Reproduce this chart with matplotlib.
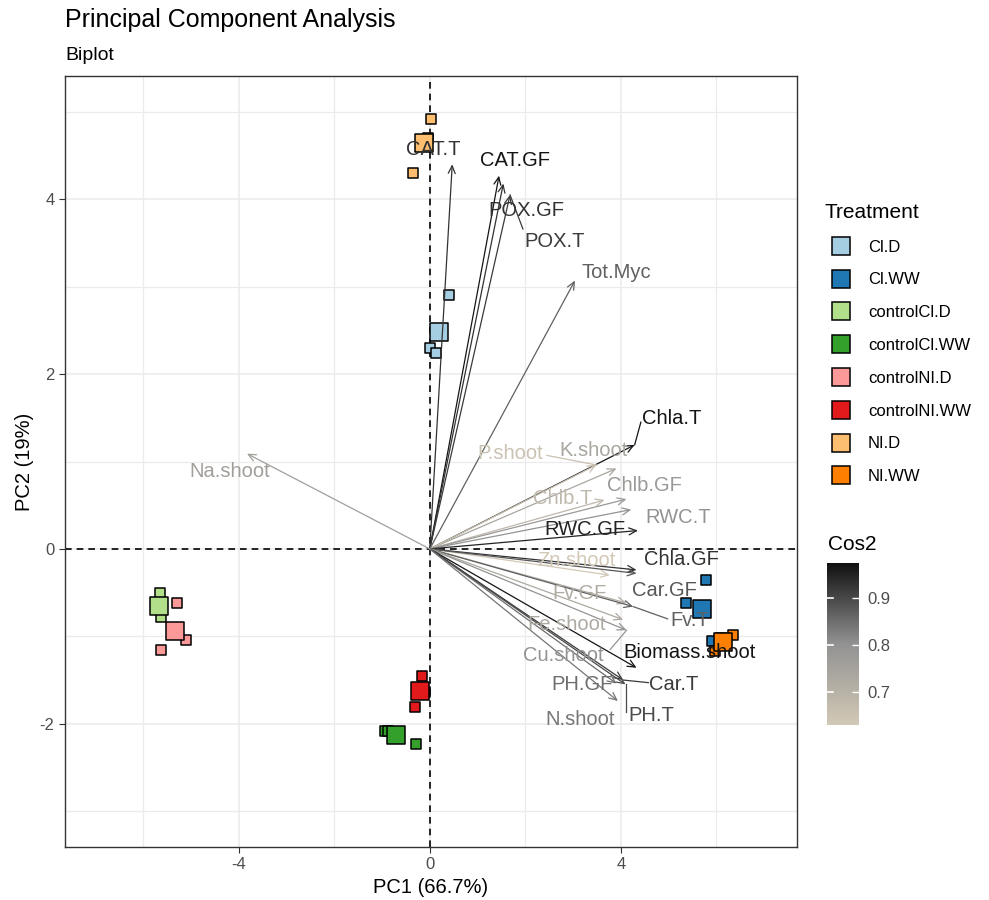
import numpy as np
import matplotlib
matplotlib.use("Agg")
import matplotlib.pyplot as plt
from matplotlib.colors import LinearSegmentedColormap, Normalize
from matplotlib.lines import Line2D

plt.rcParams["font.family"] = ["Liberation Sans", "DejaVu Sans"]
plt.rcParams["axes.unicode_minus"] = False

# Individuals (PC1, PC2) per treatment group
groups = ["Cl.D", "Cl.WW", "controlCl.D", "controlCl.WW",
          "controlNI.D", "controlNI.WW", "NI.D", "NI.WW"]
group_colors = ["#A6CEE3", "#1F78B4", "#B2DF8A", "#33A02C",
                "#FB9A99", "#E31A1C", "#FDBF6F", "#FF7F00"]
ind_x = [[0.40, 0.00, 0.14], [5.79, 5.36, 5.90], [-5.66, -5.72, -5.62],
         [-0.94, -0.87, -0.29], [-5.30, -5.10, -5.62], [-0.16, -0.32, -0.10],
         [0.035, -0.04, -0.36], [6.34, 6.10, 5.98]]
ind_y = [[2.91, 2.30, 2.24], [-0.36, -0.62, -1.05], [-0.51, -0.66, -0.78],
         [-2.08, -2.08, -2.23], [-0.62, -1.04, -1.16], [-1.455, -1.81, -1.64],
         [4.92, 4.70, 4.30], [-0.99, -1.02, -1.17]]
mean_x = [0.19, 5.69, -5.67, -0.70, -5.33, -0.195, -0.12, 6.14]
mean_y = [2.48, -0.69, -0.65, -2.13, -0.94, -1.63, 4.64, -1.06]

# Variables (loadings, scaled) and their cos2
var_names = ["CAT.T", "CAT.GF", "POX.GF", "POX.T", "Tot.Myc", "Chla.T",
             "K.shoot", "P.shoot", "Chlb.T", "Chlb.GF", "RWC.T", "RWC.GF",
             "Zn.shoot", "Chla.GF", "Car.GF", "Fv.GF", "Fv.T", "Fe.shoot",
             "Cu.shoot", "Biomass.shoot", "PH.GF", "Car.T", "PH.T",
             "N.shoot", "Na.shoot"]
var_x = [0.47, 1.45, 1.54, 1.68, 3.04, 4.29, 3.91, 3.49, 3.66, 4.12, 4.22,
         4.36, 3.77, 4.33, 4.33, 4.12, 4.26, 4.05, 4.12, 4.33, 3.91, 4.05,
         4.10, 3.94, -3.83]
var_y = [4.40, 4.27, 4.18, 4.05, 3.07, 1.19, 0.92, 0.96, 0.56, 0.57, 0.45,
         0.21, -0.30, -0.24, -0.28, -0.62, -0.66, -0.81, -0.93, -1.36, -1.54,
         -1.50, -1.55, -1.74, 1.09]
var_cos2 = [0.93, 0.97, 0.93, 0.92, 0.87, 0.97, 0.74, 0.65, 0.68, 0.78, 0.80,
            0.95, 0.63, 0.93, 0.88, 0.72, 0.87, 0.73, 0.80, 0.97, 0.85, 0.92,
            0.90, 0.84, 0.76]

# label placement (repelled labels), data coords
label_pos = {
    "CAT.T": (0.07, 4.57), "CAT.GF": (1.78, 4.44), "POX.GF": (2.02, 3.87),
    "POX.T": (2.62, 3.52), "Tot.Myc": (3.91, 3.16), "Chla.T": (5.06, 1.49),
    "K.shoot": (3.42, 1.13), "P.shoot": (1.68, 1.09), "Chlb.T": (2.79, 0.58),
    "Chlb.GF": (4.50, 0.72), "RWC.T": (5.20, 0.36), "RWC.GF": (3.25, 0.22),
    "Zn.shoot": (3.07, -0.13), "Chla.GF": (5.27, -0.12), "Car.GF": (4.92, -0.48),
    "Fv.GF": (3.14, -0.51), "Fv.T": (5.44, -0.82), "Fe.shoot": (2.86, -0.87),
    "Cu.shoot": (2.79, -1.22), "Biomass.shoot": (5.44, -1.19),
    "PH.GF": (3.18, -1.55), "Car.T": (5.10, -1.55), "PH.T": (4.64, -1.90),
    "N.shoot": (3.14, -1.95), "Na.shoot": (-4.19, 0.88),
}
# segments from arrow tip to label edge
connectors = {
    "POX.T": (1.95, 3.66), "Chla.T": (4.42, 1.45), "P.shoot": (2.45, 1.07),
    "Fv.T": (4.98, -0.80), "Car.T": (4.58, -1.53), "PH.T": (4.10, -1.86),
    "Cu.shoot": (3.78, -1.15),
}

cmap = LinearSegmentedColormap.from_list(
    "cos2", [(0.0, "#D2C8B6"), (0.5, "#929292"), (1.0, "#101010")])
norm = Normalize(vmin=0.629, vmax=0.976)

fig = plt.figure(figsize=(9.89, 9.0), dpi=100)
ax = fig.add_axes([65 / 989, 1 - 847 / 900, 732 / 989, 771 / 900])

ax.set_xlim(-7.64, 7.69)
ax.set_ylim(-3.41, 5.41)
ax.set_xticks([-4, 0, 4])
ax.set_yticks([-2, 0, 2, 4])
ax.set_xticks([-6, -2, 2, 6], minor=True)
ax.set_yticks([-3, -1, 1, 3, 5], minor=True)
ax.grid(True, which="major", color="#EBEBEB", lw=1.1, zorder=0)
ax.grid(True, which="minor", color="#EBEBEB", lw=0.9, zorder=0)
ax.set_axisbelow(True)
for s in ax.spines.values():
    s.set_color("#333333")
    s.set_linewidth(1.0)
ax.tick_params(which="major", length=4, color="#333333", labelsize=12,
               labelcolor="#4D4D4D")
ax.tick_params(which="minor", length=0)

ax.axhline(0, color="black", ls=(0, (4, 3)), lw=1.2, zorder=1)
ax.axvline(0, color="black", ls=(0, (4, 3)), lw=1.2, zorder=1)

# individuals
for i, g in enumerate(groups):
    ax.scatter(ind_x[i], ind_y[i], s=55, marker="s", c=group_colors[i],
               edgecolors="black", linewidths=1.1, zorder=2)
for i, g in enumerate(groups):
    ax.scatter(mean_x[i], mean_y[i], s=170, marker="s", c=group_colors[i],
               edgecolors="black", linewidths=1.1, zorder=2)

# variables
for name, vx, vy, c2 in zip(var_names, var_x, var_y, var_cos2):
    col = cmap(norm(c2))
    ax.annotate("", xy=(vx, vy), xytext=(0, 0),
                arrowprops=dict(arrowstyle="->,head_length=0.55,head_width=0.25",
                                color=col, lw=0.9, shrinkA=0, shrinkB=0),
                zorder=3)
    if name in connectors:
        ex, ey = connectors[name]
        ax.plot([vx, ex], [vy, ey], color=col, lw=0.9, zorder=3)
    lx, ly = label_pos[name]
    ax.text(lx, ly, name, color=col, fontsize=14.5, ha="center", va="center",
            zorder=4)

ax.set_xlabel("PC1 (66.7%)", fontsize=14.5, labelpad=4)
ax.set_ylabel("PC2 (19%)", fontsize=14.5, labelpad=4)

fig.text(65 / 989, 1 - 20 / 900, "Principal Component Analysis", fontsize=18,
         ha="left", va="center")
fig.text(65 / 989, 1 - 55 / 900, "Biplot", fontsize=14, ha="left", va="center")

# Treatment legend
handles = [Line2D([0], [0], marker="s", ls="", markersize=13,
                  markerfacecolor=c, markeredgecolor="black",
                  markeredgewidth=1.1) for c in group_colors]
leg = fig.legend(handles, groups, title="Treatment", loc="upper left",
                 bbox_to_anchor=(818 / 989, 1 - 196 / 900), frameon=False,
                 fontsize=12, title_fontsize=15, labelspacing=1.07,
                 handletextpad=0.6, borderaxespad=0)
leg._legend_box.align = "left"

# Cos2 colorbar
fig.text(828 / 989, 1 - 544 / 900, "Cos2", fontsize=15, ha="left", va="center")
cax = fig.add_axes([827 / 989, 1 - 725 / 900, 32 / 989, 162 / 900])
sm = matplotlib.cm.ScalarMappable(norm=norm, cmap=cmap)
cb = fig.colorbar(sm, cax=cax)
cb.set_ticks([0.7, 0.8, 0.9])
cb.outline.set_visible(False)
cax.tick_params(length=5, width=1, color="white", direction="in",
                labelsize=12, labelcolor="#4D4D4D", pad=6)
for t in [0.7, 0.8, 0.9]:
    cax.plot([0, 0.18], [t, t], color="white", lw=1.2, transform=cax.get_yaxis_transform())

fig.savefig("out.png", dpi=100)
